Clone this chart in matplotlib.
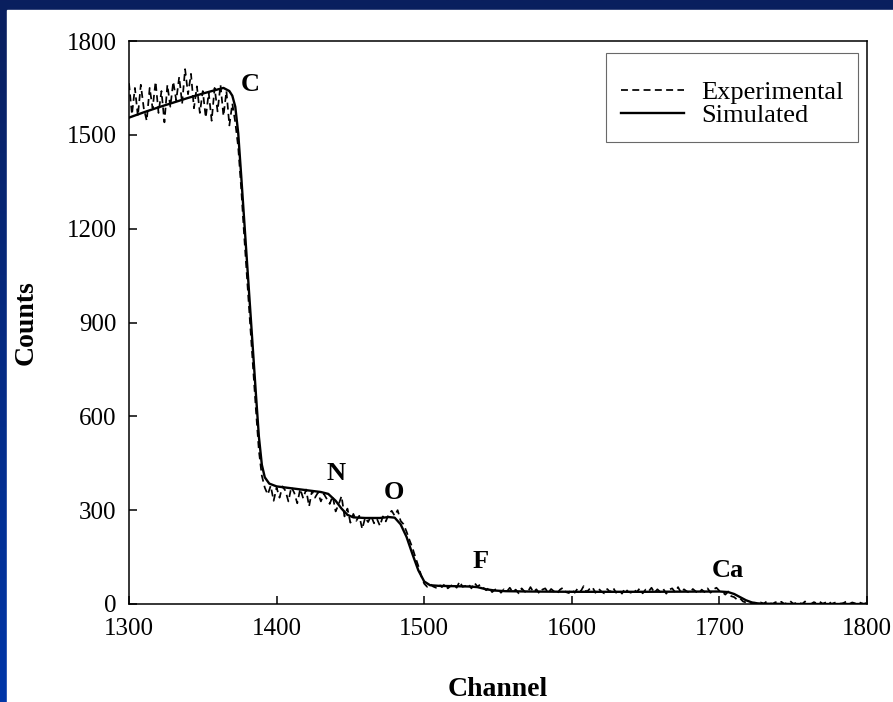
import numpy as np
import matplotlib
matplotlib.use("Agg")
import matplotlib.pyplot as plt
from matplotlib.patches import Rectangle

plt.rcParams['font.family'] = ['Liberation Serif', 'DejaVu Serif']

# Simulated spectrum (smooth fit)
sim_channel = [1300, 1310, 1320, 1330, 1340, 1350, 1360, 1364, 1368, 1370,
               1372, 1374, 1376, 1378, 1380, 1382, 1384, 1386, 1388, 1390,
               1392, 1395, 1400, 1410, 1420, 1430, 1435, 1440, 1444, 1448,
               1452, 1460, 1470, 1476, 1480, 1484, 1488, 1492, 1496, 1500,
               1504, 1510, 1520, 1530, 1536, 1542, 1548, 1555, 1570, 1600,
               1650, 1700, 1706, 1710, 1714, 1718, 1722, 1726, 1730, 1750,
               1800]
sim_counts = [1555, 1572, 1588, 1603, 1618, 1632, 1645, 1650, 1640, 1625,
              1590, 1505, 1370, 1230, 1090, 950, 810, 670, 535, 445,
              405, 385, 376, 370, 364, 358, 352, 330, 305, 285,
              277, 275, 275, 278, 276, 255, 215, 160, 108, 72,
              60, 58, 57, 56, 54, 47, 43, 41, 40, 39,
              39, 40, 38, 32, 22, 12, 5, 2, 1, 0,
              0]

# Experimental spectrum, every second channel from 1300 to 1800
exp_channel = np.arange(1300, 1801, 2)
exp_counts = [
    1665, 1565, 1650, 1560, 1660, 1585, 1545, 1650, 1585, 1670,  # 1300
    1570, 1640, 1540, 1660, 1590, 1670, 1610, 1685, 1600, 1710,  # 1320
    1630, 1695, 1585, 1655, 1570, 1640, 1555, 1635, 1545, 1650,  # 1340
    1575, 1660, 1560, 1640, 1530, 1600, 1540, 1460, 1330, 1180,  # 1360
    1040, 900, 760, 620, 490, 410, 372, 350, 378, 330,           # 1380
    372, 340, 376, 362, 328, 374, 355, 322, 368, 338,            # 1400
    366, 312, 362, 340, 356, 328, 352, 336, 320, 345,            # 1420
    296, 318, 345, 280, 305, 260, 288, 266, 282, 240,            # 1440
    276, 262, 282, 258, 272, 250, 280, 264, 288, 298,            # 1460
    282, 300, 266, 255, 232, 205, 180, 150, 122, 90,             # 1480
    65, 55, 64, 56, 52, 62, 54, 64, 50, 58,                      # 1500
    62, 52, 72, 55, 58, 64, 50, 68, 56, 62,                      # 1520
    52, 44, 52, 38, 46, 48, 36, 47, 40, 52,                      # 1540
    38, 46, 34, 50, 40, 37, 54, 38, 47, 34,                      # 1560
    46, 50, 36, 48, 40, 33, 46, 52, 38, 35,                      # 1580
    47, 36, 50, 40, 57, 38, 48, 54, 36, 50,                      # 1600
    40, 34, 48, 38, 52, 36, 46, 33, 50, 40,                      # 1620
    36, 47, 38, 50, 34, 46, 40, 52, 36, 47,                      # 1640
    38, 48, 33, 46, 50, 38, 54, 36, 47, 40,                      # 1660
    36, 48, 40, 33, 46, 38, 50, 36, 47, 52,                      # 1680
    42, 38, 30, 40, 25, 22, 14, 18, 8, 5,                        # 1700
    6, 2, 4, 0, 5, 1, 8, 3, 0, 6,                                # 1720
    2, 7, 0, 4, 9, 1, 3, 6, 0, 8,                                # 1740
    3, 0, 6, 2, 7, 1, 5, 9, 0, 4,                                # 1760
    6, 1, 3, 8, 0, 5, 2, 7, 3, 0,                                # 1780
    5,                                                           # 1800
]

# Element edges
edge_labels = ['C', 'N', 'O', 'F', 'Ca']
edge_x = [1382, 1440, 1479.5, 1538.5, 1706]
edge_y = [1660, 418, 355, 137, 108]

fig = plt.figure(figsize=(8.93, 7.02), dpi=100)

# blue slide frame behind the white chart panel
bg = fig.add_axes([0, 0, 1, 1], zorder=-10)
grad = np.linspace(0, 1, 256).reshape(-1, 1)
cmap = matplotlib.colors.LinearSegmentedColormap.from_list('frame', ['#0a1f5e', '#0036a8'])
bg.imshow(grad, aspect='auto', cmap=cmap, extent=[0, 1, 0, 1], origin='upper')
bg.add_patch(Rectangle((7 / 893, 0), 1, (702 - 10) / 702, color='white'))
bg.set_xlim(0, 1)
bg.set_ylim(0, 1)
bg.axis('off')

ax = fig.add_axes([129 / 893, 98 / 702, 738 / 893, 563 / 702])
ax.plot(exp_channel, exp_counts, color='black', lw=1.25, ls=(0, (4, 2.5)), label='Experimental')
ax.plot(sim_channel, sim_counts, color='black', lw=1.7, label='Simulated')

for lab, x, y in zip(edge_labels, edge_x, edge_y):
    ax.text(x, y, lab, fontsize=19, fontweight='bold', ha='center', va='center')

ax.set_xlim(1300, 1800)
ax.set_ylim(0, 1800)
ax.set_xticks(np.arange(1300, 1801, 100))
ax.set_yticks(np.arange(0, 1801, 300))
ax.tick_params(direction='in', length=6, width=1.1, labelsize=18, top=False, right=False)
ax.tick_params(axis='y', pad=9)
ax.tick_params(axis='x', pad=10)
for s in ax.spines.values():
    s.set_linewidth(1.1)

ax.set_xlabel('Channel', fontsize=20, fontweight='bold', labelpad=27)
ax.set_ylabel('Counts', fontsize=20, fontweight='bold', labelpad=20)

# empty small title leaves the extra space above the entries
leg = ax.legend(loc='upper right', fontsize=19, frameon=True, fancybox=False,
                edgecolor='#444444', handlelength=2.4, handletextpad=0.65,
                borderpad=0.55, labelspacing=0.0, borderaxespad=0,
                title=' ', title_fontsize=11,
                bbox_to_anchor=(0.988, 0.979))
leg.get_frame().set_linewidth(0.8)

fig.savefig('out.png', dpi=100)
